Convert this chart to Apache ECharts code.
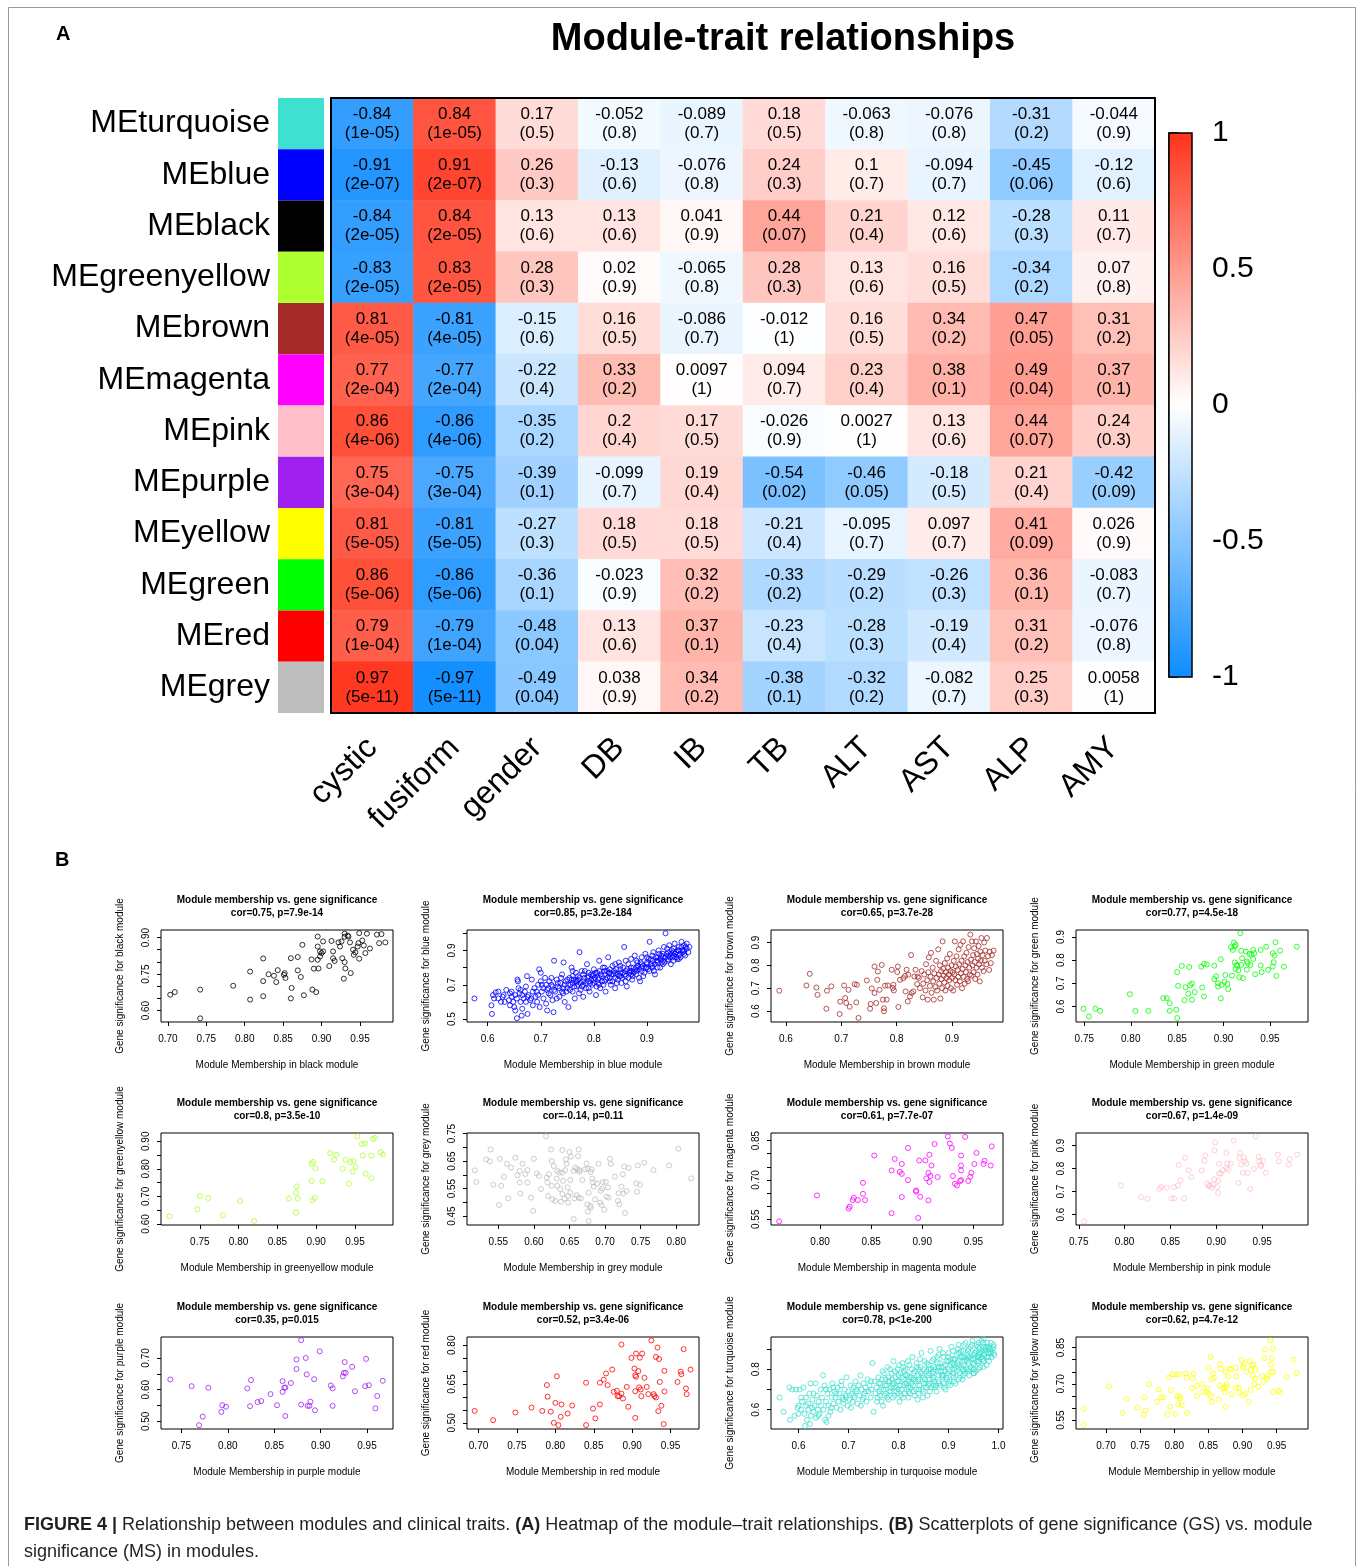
<!DOCTYPE html>
<html>
<head>
<meta charset="utf-8">
<script src="https://cdn.jsdelivr.net/npm/echarts@6/dist/echarts.min.js"></script>
<style>
html,body{margin:0;padding:0;background:#fff}
#main{width:1357px;height:1566px}
</style>
</head>
<body>
<div id="main"></div>
<script>
// ---- panel A data ----
var modules = ['MEturquoise','MEblue','MEblack','MEgreenyellow','MEbrown','MEmagenta','MEpink','MEpurple','MEyellow','MEgreen','MEred','MEgrey'];
var modColors = ['#40E0D0','#0000FF','#000000','#ADFF2F','#A52A2A','#FF00FF','#FFC0CB','#A020F0','#FFFF00','#00FF00','#FF0000','#BEBEBE'];
var traits = ['cystic','fusiform','gender','DB','IB','TB','ALT','AST','ALP','AMY'];
var corVals = [
  [-0.84, 0.84, 0.17, -0.052, -0.089, 0.18, -0.063, -0.076, -0.31, -0.044],
  [-0.91, 0.91, 0.26, -0.13, -0.076, 0.24, 0.1, -0.094, -0.45, -0.12],
  [-0.84, 0.84, 0.13, 0.13, 0.041, 0.44, 0.21, 0.12, -0.28, 0.11],
  [-0.83, 0.83, 0.28, 0.02, -0.065, 0.28, 0.13, 0.16, -0.34, 0.07],
  [0.81, -0.81, -0.15, 0.16, -0.086, -0.012, 0.16, 0.34, 0.47, 0.31],
  [0.77, -0.77, -0.22, 0.33, 0.0097, 0.094, 0.23, 0.38, 0.49, 0.37],
  [0.86, -0.86, -0.35, 0.2, 0.17, -0.026, 0.0027, 0.13, 0.44, 0.24],
  [0.75, -0.75, -0.39, -0.099, 0.19, -0.54, -0.46, -0.18, 0.21, -0.42],
  [0.81, -0.81, -0.27, 0.18, 0.18, -0.21, -0.095, 0.097, 0.41, 0.026],
  [0.86, -0.86, -0.36, -0.023, 0.32, -0.33, -0.29, -0.26, 0.36, -0.083],
  [0.79, -0.79, -0.48, 0.13, 0.37, -0.23, -0.28, -0.19, 0.31, -0.076],
  [0.97, -0.97, -0.49, 0.038, 0.34, -0.38, -0.32, -0.082, 0.25, 0.0058]
];
var pVals = [
  ['1e-05','1e-05','0.5','0.8','0.7','0.5','0.8','0.8','0.2','0.9'],
  ['2e-07','2e-07','0.3','0.6','0.8','0.3','0.7','0.7','0.06','0.6'],
  ['2e-05','2e-05','0.6','0.6','0.9','0.07','0.4','0.6','0.3','0.7'],
  ['2e-05','2e-05','0.3','0.9','0.8','0.3','0.6','0.5','0.2','0.8'],
  ['4e-05','4e-05','0.6','0.5','0.7','1','0.5','0.2','0.05','0.2'],
  ['2e-04','2e-04','0.4','0.2','1','0.7','0.4','0.1','0.04','0.1'],
  ['4e-06','4e-06','0.2','0.4','0.5','0.9','1','0.6','0.07','0.3'],
  ['3e-04','3e-04','0.1','0.7','0.4','0.02','0.05','0.5','0.4','0.09'],
  ['5e-05','5e-05','0.3','0.5','0.5','0.4','0.7','0.7','0.09','0.9'],
  ['5e-06','5e-06','0.1','0.9','0.2','0.2','0.2','0.3','0.1','0.7'],
  ['1e-04','1e-04','0.04','0.6','0.1','0.4','0.3','0.4','0.2','0.8'],
  ['5e-11','5e-11','0.04','0.9','0.2','0.1','0.2','0.7','0.3','1']
];
var legendTicks = [-1, -0.5, 0, 0.5, 1];

// ---- panel B data ----
var scatterModules = ['black','blue','brown','green','greenyellow','grey','magenta','pink','purple','red','turquoise','yellow'];
var scatterColors = ['#000000','#0000FF','#A52A2A','#00FF00','#ADFF2F','#BEBEBE','#FF00FF','#FFC0CB','#A020F0','#FF0000','#40E0D0','#FFFF00'];
var scatterStats = ['cor=0.75, p=7.9e-14','cor=0.85, p=3.2e-184','cor=0.65, p=3.7e-28','cor=0.77, p=4.5e-18',
  'cor=0.8, p=3.5e-10','cor=-0.14, p=0.11','cor=0.61, p=7.7e-07','cor=0.67, p=1.4e-09',
  'cor=0.35, p=0.015','cor=0.52, p=3.4e-06','cor=0.78, p<1e-200','cor=0.62, p=4.7e-12'];
var xRanges = [[0.691,0.993],[0.561,0.998],[0.573,0.992],[0.741,0.991],[0.700,0.999],[0.506,0.832],
  [0.752,0.979],[0.747,1.0],[0.728,0.978],[0.685,0.987],[0.545,1.009],[0.656,0.996]];
var yRanges = [[0.553,0.931],[0.483,1.019],[0.552,0.955],[0.533,0.930],[0.596,0.930],[0.4175,0.752],
  [0.528,0.879],[0.555,0.955],[0.476,0.766],[0.476,0.832],[0.505,0.959],[0.513,0.894]];
var xTicks = [
  [0.70,0.75,0.80,0.85,0.90,0.95],[0.6,0.7,0.8,0.9],[0.6,0.7,0.8,0.9],[0.75,0.80,0.85,0.90,0.95],
  [0.75,0.80,0.85,0.90,0.95],[0.55,0.60,0.65,0.70,0.75,0.80],[0.80,0.85,0.90,0.95],[0.75,0.80,0.85,0.90,0.95],
  [0.75,0.80,0.85,0.90,0.95],[0.70,0.75,0.80,0.85,0.90,0.95],[0.6,0.7,0.8,0.9,1.0],[0.70,0.75,0.80,0.85,0.90,0.95]
];
var yTicks = [
  [0.60,0.65,0.70,0.75,0.80,0.85,0.90],[0.5,0.6,0.7,0.8,0.9,1.0],[0.6,0.7,0.8,0.9],[0.6,0.7,0.8,0.9],
  [0.60,0.65,0.70,0.75,0.80,0.85,0.90],[0.45,0.50,0.55,0.60,0.65,0.70,0.75],[0.55,0.60,0.65,0.70,0.75,0.80,0.85],[0.6,0.7,0.8,0.9],
  [0.50,0.55,0.60,0.65,0.70],[0.50,0.55,0.60,0.65,0.70,0.75,0.80],[0.6,0.7,0.8,0.9],[0.55,0.60,0.65,0.70,0.75,0.80,0.85]
];
var yLabels = [
  [0.60,0.75,0.90],[0.5,0.7,0.9],[0.6,0.7,0.8,0.9],[0.6,0.7,0.8,0.9],
  [0.60,0.70,0.80,0.90],[0.45,0.55,0.65,0.75],[0.55,0.70,0.85],[0.6,0.7,0.8,0.9],
  [0.50,0.60,0.70],[0.50,0.65,0.80],[0.6,0.8],[0.55,0.70,0.85]
];
var xDigits = [2,1,1,2,2,2,2,2,2,2,1,2];
var yDigits = [2,1,1,1,2,2,2,1,2,2,1,2];

var ptsBlack = [[0.703,0.665],[0.709,0.676],[0.742,0.686],[0.742,0.568],[0.785,0.702],[0.807,0.760],[0.807,0.645],[0.824,0.814],[0.824,0.721],[0.824,0.659],[0.831,0.749],[0.838,0.743],[0.841,0.717],[0.843,0.766],[0.851,0.747],[0.852,0.754],[0.853,0.734],[0.860,0.815],[0.861,0.693],[0.860,0.650],[0.869,0.820],[0.869,0.765],[0.873,0.738],[0.875,0.870],[0.877,0.663],[0.887,0.810],[0.890,0.772],[0.895,0.904],[0.895,0.863],[0.895,0.809],[0.896,0.773],[0.893,0.676],[0.898,0.822],[0.898,0.843],[0.900,0.836],[0.902,0.884],[0.902,0.843],[0.913,0.886],[0.910,0.783],[0.915,0.843],[0.915,0.815],[0.917,0.804],[0.922,0.880],[0.924,0.863],[0.926,0.884],[0.927,0.815],[0.930,0.916],[0.930,0.903],[0.930,0.799],[0.929,0.731],[0.931,0.773],[0.934,0.908],[0.935,0.904],[0.937,0.880],[0.938,0.754],[0.941,0.850],[0.942,0.829],[0.944,0.839],[0.947,0.863],[0.948,0.877],[0.949,0.918],[0.949,0.813],[0.953,0.888],[0.955,0.867],[0.957,0.836],[0.959,0.916],[0.963,0.855],[0.972,0.912],[0.975,0.877],[0.978,0.914],[0.983,0.880],[0.888,0.686]];

var ptsBlue = [[0.575,0.62],[0.607,0.58],[0.608,0.53],[0.61,0.64],[0.612,0.62],[0.615,0.655],[0.62,0.66],[0.625,0.6],[0.628,0.63],[0.635,0.67],[0.64,0.61],[0.642,0.58],[0.645,0.63],[0.648,0.6],[0.65,0.57],[0.652,0.55],[0.655,0.505],[0.656,0.73],[0.657,0.72],[0.658,0.68],[0.66,0.65],[0.662,0.6],[0.664,0.52],[0.665,0.56],[0.668,0.62],[0.67,0.66],[0.672,0.69],[0.674,0.75],[0.675,0.53],[0.677,0.64],[0.68,0.61],[0.683,0.73],[0.685,0.58],[0.688,0.68],[0.69,0.63],[0.693,0.6],[0.695,0.7],[0.697,0.79],[0.698,0.57],[0.7,0.77],[0.702,0.66],[0.705,0.62],[0.708,0.74],[0.71,0.59],[0.712,0.55],[0.714,0.68],[0.716,0.72],[0.718,0.64],[0.72,0.7],[0.722,0.61],[0.724,0.54],[0.725,0.84],[0.727,0.66],[0.73,0.73],[0.732,0.69],[0.735,0.63],[0.737,0.71],[0.74,0.76],[0.742,0.65],[0.743,0.83],[0.745,0.6],[0.747,0.72],[0.75,0.68],[0.752,0.57],[0.754,0.74],[0.756,0.7],[0.758,0.8],[0.76,0.66],[0.762,0.73],[0.764,0.62],[0.766,0.77],[0.768,0.69],[0.77,0.75],[0.772,0.65],[0.773,0.89],[0.775,0.71],[0.777,0.78],[0.78,0.63],[0.782,0.74],[0.785,0.68],[0.787,0.82],[0.79,0.72],[0.792,0.66],[0.795,0.76],[0.797,0.7],[0.8,0.79],[0.802,0.74],[0.804,0.64],[0.806,0.77],[0.808,0.71],[0.81,0.84],[0.812,0.68],[0.815,0.75],[0.817,0.8],[0.82,0.72],[0.822,0.66],[0.825,0.78],[0.827,0.86],[0.83,0.74],[0.832,0.7],[0.835,0.81],[0.837,0.76],[0.84,0.68],[0.842,0.79],[0.845,0.73],[0.847,0.83],[0.85,0.77],[0.852,0.71],[0.855,0.8],[0.857,0.92],[0.86,0.75],[0.862,0.69],[0.865,0.82],[0.867,0.78],[0.87,0.85],[0.872,0.73],[0.875,0.8],[0.877,0.87],[0.88,0.76],[0.882,0.83],[0.885,0.79],[0.887,0.72],[0.89,0.86],[0.892,0.81],[0.895,0.77],[0.897,0.88],[0.9,0.83],[0.902,0.79],[0.905,0.95],[0.907,0.85],[0.91,0.81],[0.912,0.89],[0.915,0.76],[0.917,0.86],[0.92,0.83],[0.922,0.9],[0.925,0.8],[0.927,0.87],[0.93,0.84],[0.932,0.92],[0.935,1.0],[0.937,0.88],[0.94,0.85],[0.942,0.93],[0.945,0.82],[0.947,0.9],[0.95,0.87],[0.952,0.94],[0.955,0.89],[0.957,0.85],[0.96,0.92],[0.962,0.88],[0.965,0.95],[0.967,0.9],[0.97,0.93],[0.972,0.87],[0.975,0.91],[0.978,0.89],[0.98,0.92],
  [0.76,0.71],[0.78,0.7],[0.79,0.77],[0.8,0.73],[0.81,0.7],[0.82,0.76],[0.83,0.77],[0.84,0.74],[0.85,0.75],[0.86,0.78],[0.87,0.76],[0.88,0.8],[0.89,0.78],[0.9,0.8],[0.91,0.84],[0.92,0.86],[0.93,0.88],[0.94,0.89],[0.95,0.91],[0.96,0.9],[0.905,0.78],[0.915,0.82],[0.925,0.85],[0.935,0.86],[0.945,0.88],[0.955,0.86],[0.965,0.92],[0.975,0.94],[0.885,0.74],[0.875,0.77],[0.865,0.74],[0.855,0.77],[0.845,0.76],[0.835,0.72],[0.825,0.74],[0.815,0.72],[0.805,0.69],[0.795,0.73],[0.785,0.71],[0.775,0.67],[0.765,0.72],[0.755,0.67],[0.745,0.7],[0.735,0.68],[0.725,0.67],[0.715,0.65],[0.705,0.68],[0.695,0.64],[0.685,0.66],[0.675,0.63],[0.665,0.64],[0.655,0.62],[0.645,0.66],[0.63,0.64],[0.62,0.62],[0.7,0.72],[0.71,0.7],[0.72,0.74],[0.73,0.62],[0.74,0.66],[0.75,0.73],[0.76,0.78],[0.77,0.7],[0.78,0.76],[0.79,0.68],[0.8,0.76],[0.81,0.78],[0.82,0.8],[0.83,0.79],[0.84,0.82],[0.85,0.81],[0.86,0.84],[0.87,0.8],[0.88,0.84],[0.89,0.82],[0.9,0.86],[0.91,0.87],[0.92,0.8],[0.93,0.82],[0.94,0.87],[0.95,0.84],[0.96,0.87],[0.97,0.9],
  [0.76,0.75],[0.77,0.73],[0.78,0.72],[0.79,0.75],[0.8,0.71],[0.81,0.74],[0.82,0.78],[0.83,0.72],[0.84,0.77],[0.85,0.79],[0.86,0.72],[0.87,0.78],[0.88,0.78],[0.89,0.8],[0.9,0.82],[0.91,0.8],[0.92,0.84],[0.93,0.86],[0.94,0.84],[0.95,0.89],[0.96,0.85],[0.97,0.88],[0.763,0.69],[0.773,0.74],[0.783,0.78],[0.793,0.71],[0.803,0.77],[0.813,0.76],[0.823,0.73],[0.833,0.76],[0.843,0.71],[0.853,0.74],[0.863,0.79],[0.873,0.75],[0.883,0.81],[0.893,0.75],[0.903,0.85],[0.913,0.78],[0.923,0.88],[0.933,0.83],[0.943,0.86],[0.953,0.88],[0.963,0.86],[0.973,0.92],[0.702,0.7],[0.712,0.67],[0.722,0.69],[0.732,0.71],[0.742,0.68],[0.752,0.7],[0.692,0.66],[0.682,0.62],[0.672,0.6],[0.662,0.67],[0.652,0.64],[0.642,0.65],[0.632,0.6],[0.738,0.74],[0.748,0.66],[0.758,0.73],[0.768,0.72],[0.778,0.69],[0.788,0.74],[0.798,0.75],[0.808,0.73],[0.818,0.7],[0.828,0.77],[0.838,0.78],[0.848,0.75],[0.858,0.76],[0.868,0.77],[0.878,0.79],[0.888,0.83],[0.898,0.8],[0.908,0.82],[0.918,0.84],[0.928,0.83],[0.938,0.91],[0.948,0.86],[0.958,0.9],[0.968,0.89]];

var ptsBrown = [[0.588,0.689],[0.637,0.712],[0.643,0.763],[0.655,0.703],[0.657,0.671],[0.673,0.610],[0.674,0.689],[0.682,0.708],[0.697,0.587],[0.698,0.641],[0.705,0.712],[0.707,0.657],[0.709,0.635],[0.713,0.693],[0.715,0.619],[0.724,0.718],[0.727,0.638],[0.728,0.715],[0.731,0.570],[0.746,0.734],[0.752,0.610],[0.753,0.631],[0.755,0.699],[0.760,0.679],[0.760,0.795],[0.763,0.635],[0.765,0.737],[0.766,0.773],[0.769,0.693],[0.773,0.802],[0.775,0.650],[0.777,0.612],[0.777,0.599],[0.779,0.711],[0.782,0.650],[0.784,0.712],[0.791,0.781],[0.793,0.701],[0.794,0.715],[0.795,0.690],[0.801,0.771],[0.802,0.795],[0.803,0.618],[0.806,0.737],[0.812,0.744],[0.815,0.754],[0.816,0.686],[0.818,0.781],[0.820,0.642],[0.821,0.759],[0.824,0.664],[0.826,0.845],[0.827,0.679],[0.830,0.686],[0.832,0.751],[0.834,0.781],[0.837,0.718],[0.838,0.751],
  [0.840,0.745],[0.842,0.700],[0.845,0.775],[0.847,0.660],[0.848,0.720],[0.850,0.760],[0.852,0.690],[0.853,0.805],[0.855,0.735],[0.856,0.650],[0.857,0.770],[0.858,0.835],[0.860,0.710],[0.861,0.750],[0.862,0.855],[0.863,0.680],[0.865,0.790],[0.866,0.730],[0.867,0.650],[0.868,0.765],[0.870,0.705],[0.871,0.820],[0.872,0.745],[0.873,0.690],[0.875,0.870],[0.876,0.760],[0.877,0.720],[0.878,0.800],[0.879,0.655],[0.880,0.775],[0.881,0.740],[0.882,0.700],[0.883,0.905],[0.884,0.785],[0.885,0.755],[0.886,0.725],[0.887,0.810],[0.888,0.690],[0.889,0.770],[0.890,0.745],[0.891,0.830],[0.892,0.710],[0.893,0.790],[0.894,0.760],[0.895,0.735],[0.896,0.850],[0.897,0.775],[0.898,0.700],[0.899,0.800],[0.900,0.745],[0.901,0.770],[0.902,0.690],[0.903,0.820],[0.904,0.760],[0.905,0.905],[0.906,0.735],[0.907,0.795],[0.908,0.840],[0.909,0.715],[0.910,0.780],[0.911,0.750],[0.912,0.870],[0.913,0.805],[0.914,0.730],[0.915,0.890],[0.916,0.765],[0.917,0.820],[0.918,0.700],[0.919,0.785],[0.920,0.905],[0.921,0.750],[0.922,0.840],[0.923,0.720],[0.924,0.800],[0.925,0.770],[0.926,0.855],[0.927,0.740],[0.928,0.815],[0.929,0.730],[0.930,0.880],[0.931,0.790],[0.932,0.760],[0.933,0.935],[0.934,0.825],[0.935,0.755],[0.936,0.905],[0.937,0.800],[0.938,0.845],[0.939,0.770],[0.940,0.875],[0.941,0.815],[0.942,0.740],[0.943,0.905],[0.944,0.790],[0.945,0.850],[0.946,0.760],[0.947,0.830],[0.948,0.885],[0.949,0.805],[0.950,0.730],[0.951,0.860],[0.952,0.820],[0.953,0.920],[0.954,0.790],[0.955,0.845],[0.957,0.775],[0.958,0.900],[0.959,0.820],[0.960,0.865],[0.962,0.805],[0.963,0.920],[0.965,0.840],[0.967,0.780],[0.968,0.860],[0.970,0.810],[0.972,0.845],[0.975,0.865]];

var ptsGreen = [[0.749,0.590],[0.755,0.557],[0.762,0.590],[0.767,0.581],[0.799,0.653],[0.805,0.581],[0.819,0.581],[0.835,0.636],[0.839,0.636],[0.842,0.614],[0.842,0.581],[0.849,0.586],[0.850,0.748],[0.851,0.689],[0.850,0.550],[0.855,0.775],[0.858,0.627],[0.859,0.683],[0.862,0.655],[0.863,0.770],[0.864,0.692],[0.866,0.699],[0.866,0.629],[0.869,0.662],[0.876,0.772],[0.877,0.682],[0.879,0.643],[0.879,0.784],[0.882,0.781],[0.890,0.718],[0.890,0.776],[0.892,0.730],[0.894,0.700],[0.894,0.686],[0.897,0.804],[0.897,0.635],[0.898,0.693],[0.901,0.706],[0.902,0.736],[0.904,0.697],[0.905,0.675],[0.908,0.856],[0.909,0.733],[0.910,0.844],[0.911,0.876],[0.912,0.859],[0.912,0.790],[0.913,0.866],[0.913,0.762],[0.914,0.779],[0.915,0.776],[0.916,0.756],[0.917,0.726],[0.918,0.916],[0.919,0.840],[0.919,0.779],[0.920,0.808],[0.921,0.722],[0.924,0.837],[0.925,0.794],[0.925,0.759],[0.926,0.787],[0.928,0.827],[0.929,0.779],[0.930,0.823],[0.932,0.844],[0.932,0.805],[0.933,0.830],[0.934,0.739],[0.940,0.777],[0.940,0.844],[0.941,0.748],[0.946,0.858],[0.948,0.758],[0.953,0.772],[0.953,0.830],[0.954,0.791],[0.955,0.820],[0.956,0.877],[0.957,0.732],[0.961,0.841],[0.965,0.772],[0.979,0.858]];

var ptsGreenyellow = [[0.711,0.627],[0.747,0.653],[0.750,0.701],[0.761,0.694],[0.780,0.631],[0.802,0.683],[0.820,0.611],[0.865,0.692],[0.874,0.641],[0.874,0.713],[0.875,0.736],[0.876,0.692],[0.894,0.755],[0.894,0.819],[0.895,0.686],[0.896,0.825],[0.898,0.694],[0.899,0.802],[0.908,0.755],[0.918,0.857],[0.923,0.833],[0.926,0.851],[0.934,0.800],[0.938,0.833],[0.942,0.746],[0.944,0.824],[0.947,0.790],[0.948,0.828],[0.951,0.807],[0.953,0.918],[0.959,0.890],[0.960,0.848],[0.963,0.892],[0.964,0.782],[0.971,0.766],[0.971,0.848],[0.973,0.908],[0.976,0.912],[0.983,0.860],[0.986,0.852]];

var ptsGrey = [[0.517,0.616],[0.519,0.574],[0.533,0.656],[0.538,0.649],[0.539,0.692],[0.543,0.564],[0.551,0.490],[0.552,0.658],[0.554,0.560],[0.558,0.593],[0.562,0.640],[0.564,0.514],[0.568,0.626],[0.574,0.662],[0.577,0.598],[0.580,0.614],[0.580,0.572],[0.581,0.532],[0.584,0.640],[0.588,0.603],[0.591,0.617],[0.591,0.572],[0.596,0.517],[0.599,0.469],[0.600,0.658],[0.604,0.605],[0.607,0.596],[0.610,0.548],[0.617,0.740],[0.618,0.590],[0.619,0.572],[0.620,0.523],[0.621,0.602],[0.624,0.692],[0.625,0.650],[0.625,0.560],[0.626,0.511],[0.628,0.632],[0.630,0.505],[0.632,0.586],[0.633,0.560],[0.633,0.614],[0.636,0.608],[0.637,0.548],[0.638,0.502],[0.640,0.690],[0.640,0.530],[0.640,0.608],[0.641,0.578],[0.643,0.514],[0.644,0.617],[0.645,0.656],[0.646,0.640],[0.647,0.554],[0.648,0.523],[0.648,0.499],[0.650,0.683],[0.651,0.581],[0.651,0.535],[0.652,0.666],[0.656,0.614],[0.656,0.439],[0.657,0.514],[0.658,0.626],[0.660,0.526],[0.661,0.620],[0.662,0.668],[0.663,0.692],[0.663,0.517],[0.664,0.617],[0.664,0.611],[0.666,0.514],[0.668,0.581],[0.672,0.620],[0.674,0.641],[0.675,0.492],[0.676,0.622],[0.676,0.466],[0.677,0.535],[0.677,0.432],[0.679,0.487],[0.680,0.610],[0.680,0.481],[0.681,0.620],[0.682,0.586],[0.683,0.572],[0.684,0.557],[0.686,0.511],[0.689,0.568],[0.691,0.640],[0.693,0.499],[0.694,0.542],[0.695,0.490],[0.696,0.550],[0.697,0.574],[0.699,0.473],[0.701,0.574],[0.702,0.521],[0.704,0.554],[0.705,0.517],[0.707,0.658],[0.708,0.640],[0.714,0.593],[0.718,0.505],[0.719,0.533],[0.720,0.493],[0.723,0.557],[0.725,0.602],[0.726,0.532],[0.727,0.630],[0.728,0.461],[0.730,0.541],[0.733,0.625],[0.744,0.569],[0.745,0.538],[0.746,0.634],[0.749,0.564],[0.755,0.644],[0.768,0.617],[0.790,0.634],[0.803,0.695],[0.821,0.587]];

var ptsMagenta = [[0.760,0.542],[0.797,0.641],[0.828,0.591],[0.829,0.598],[0.832,0.623],[0.833,0.632],[0.837,0.623],[0.842,0.647],[0.842,0.689],[0.844,0.623],[0.853,0.793],[0.870,0.573],[0.870,0.736],[0.873,0.780],[0.878,0.731],[0.880,0.723],[0.880,0.761],[0.880,0.635],[0.886,0.699],[0.886,0.822],[0.894,0.655],[0.894,0.660],[0.896,0.555],[0.897,0.774],[0.898,0.636],[0.903,0.774],[0.904,0.706],[0.906,0.727],[0.906,0.622],[0.907,0.692],[0.907,0.796],[0.908,0.715],[0.909,0.755],[0.912,0.837],[0.915,0.711],[0.925,0.866],[0.927,0.839],[0.929,0.822],[0.930,0.715],[0.932,0.685],[0.934,0.679],[0.937,0.696],[0.938,0.793],[0.938,0.755],[0.938,0.736],[0.938,0.699],[0.942,0.864],[0.945,0.696],[0.947,0.712],[0.948,0.727],[0.951,0.761],[0.953,0.803],[0.960,0.761],[0.961,0.773],[0.967,0.755],[0.968,0.828]];

var ptsPink = [[0.756,0.571],[0.796,0.727],[0.818,0.676],[0.825,0.669],[0.838,0.712],[0.840,0.720],[0.846,0.717],[0.851,0.671],[0.854,0.720],[0.854,0.671],[0.858,0.727],[0.859,0.816],[0.861,0.748],[0.865,0.671],[0.866,0.847],[0.870,0.793],[0.873,0.763],[0.884,0.792],[0.887,0.834],[0.888,0.857],[0.890,0.734],[0.892,0.724],[0.893,0.727],[0.895,0.717],[0.896,0.731],[0.898,0.753],[0.898,0.880],[0.899,0.914],[0.901,0.720],[0.902,0.746],[0.902,0.695],[0.903,0.821],[0.903,0.779],[0.905,0.779],[0.907,0.793],[0.911,0.869],[0.911,0.803],[0.912,0.822],[0.913,0.796],[0.916,0.822],[0.919,0.922],[0.924,0.738],[0.925,0.847],[0.926,0.869],[0.927,0.818],[0.929,0.782],[0.930,0.847],[0.931,0.832],[0.933,0.822],[0.934,0.782],[0.937,0.712],[0.941,0.799],[0.943,0.940],[0.946,0.851],[0.947,0.832],[0.948,0.816],[0.949,0.811],[0.951,0.835],[0.954,0.782],[0.967,0.861],[0.968,0.832],[0.979,0.818],[0.980,0.842],[0.988,0.861]];

var ptsPurple = [[0.738,0.632],[0.761,0.611],[0.769,0.488],[0.773,0.515],[0.779,0.606],[0.793,0.530],[0.794,0.551],[0.798,0.546],[0.821,0.604],[0.824,0.548],[0.825,0.630],[0.832,0.561],[0.836,0.564],[0.846,0.586],[0.853,0.551],[0.859,0.627],[0.859,0.593],[0.861,0.606],[0.862,0.607],[0.862,0.517],[0.868,0.621],[0.874,0.695],[0.874,0.665],[0.879,0.553],[0.879,0.756],[0.884,0.700],[0.885,0.648],[0.886,0.549],[0.888,0.549],[0.889,0.562],[0.893,0.633],[0.894,0.535],[0.899,0.721],[0.911,0.613],[0.913,0.604],[0.913,0.549],[0.924,0.642],[0.925,0.653],[0.926,0.687],[0.927,0.653],[0.934,0.672],[0.937,0.595],[0.948,0.611],[0.949,0.697],[0.952,0.614],[0.959,0.541],[0.961,0.580],[0.967,0.628]];

var ptsRed = [[0.695,0.546],[0.719,0.510],[0.748,0.540],[0.769,0.559],[0.783,0.546],[0.789,0.646],[0.790,0.601],[0.794,0.543],[0.798,0.500],[0.800,0.577],[0.802,0.680],[0.804,0.491],[0.807,0.523],[0.808,0.571],[0.816,0.536],[0.822,0.567],[0.840,0.655],[0.840,0.491],[0.849,0.555],[0.852,0.517],[0.858,0.571],[0.858,0.655],[0.863,0.667],[0.866,0.691],[0.868,0.646],[0.874,0.706],[0.876,0.620],[0.880,0.624],[0.881,0.603],[0.883,0.603],[0.886,0.803],[0.886,0.613],[0.888,0.594],[0.893,0.639],[0.895,0.562],[0.899,0.751],[0.903,0.710],[0.904,0.684],[0.904,0.622],[0.904,0.519],[0.905,0.768],[0.905,0.678],[0.908,0.700],[0.909,0.637],[0.910,0.752],[0.911,0.629],[0.912,0.603],[0.913,0.768],[0.916,0.674],[0.919,0.639],[0.921,0.611],[0.925,0.819],[0.928,0.611],[0.929,0.603],[0.931,0.755],[0.931,0.598],[0.933,0.791],[0.934,0.545],[0.935,0.747],[0.936,0.658],[0.938,0.566],[0.941,0.495],[0.942,0.701],[0.942,0.621],[0.959,0.658],[0.963,0.698],[0.964,0.688],[0.967,0.785],[0.970,0.633],[0.971,0.611],[0.976,0.706]];

var ptsTurquoise = [[0.562,0.66],[0.570,0.59],[0.582,0.71],[0.583,0.55],[0.587,0.70],[0.592,0.57],[0.595,0.70],[0.598,0.61],[0.600,0.62],[0.602,0.70],[0.605,0.60],[0.607,0.64],[0.610,0.71],[0.612,0.58],[0.613,0.52],[0.615,0.66],[0.617,0.55],[0.619,0.63],[0.620,0.60],[0.622,0.68],[0.623,0.53],[0.624,0.73],[0.625,0.57],[0.627,0.61],[0.628,0.65],[0.630,0.59],[0.632,0.62],[0.634,0.73],[0.635,0.56],[0.637,0.67],[0.639,0.60],[0.640,0.64],[0.642,0.58],[0.644,0.70],[0.645,0.62],[0.647,0.66],[0.649,0.77],[0.650,0.60],[0.652,0.72],[0.653,0.55],[0.655,0.64],[0.656,0.54],[0.658,0.68],[0.660,0.62],[0.662,0.70],[0.664,0.59],[0.666,0.66],[0.668,0.73],[0.670,0.63],[0.672,0.69],[0.674,0.66],[0.676,0.61],[0.678,0.71],[0.680,0.64],[0.682,0.68],[0.684,0.60],[0.686,0.74],[0.688,0.66],[0.690,0.63],[0.692,0.70],[0.694,0.67],[0.696,0.76],[0.698,0.62],[0.700,0.69],[0.702,0.65],[0.704,0.72],[0.706,0.68],[0.708,0.64],[0.710,0.71],[0.712,0.66],[0.714,0.74],[0.716,0.69],[0.718,0.63],[0.720,0.72],[0.722,0.67],[0.724,0.77],[0.726,0.70],[0.728,0.65],[0.730,0.73],[0.732,0.68],[0.734,0.71],[0.736,0.64],[0.738,0.75],[0.740,0.69],[0.742,0.72],[0.744,0.66],[0.746,0.70],[0.748,0.83],[0.750,0.59],[0.752,0.74],[0.754,0.68],
  [0.756,0.71],[0.758,0.66],[0.760,0.76],[0.762,0.69],[0.764,0.73],[0.766,0.64],[0.768,0.79],[0.770,0.70],[0.772,0.67],[0.774,0.75],[0.776,0.72],[0.778,0.81],[0.780,0.65],[0.782,0.74],[0.784,0.69],[0.786,0.78],[0.788,0.72],[0.790,0.84],[0.792,0.67],[0.794,0.76],[0.796,0.71],[0.798,0.80],[0.800,0.74],[0.802,0.64],[0.804,0.78],[0.806,0.70],[0.808,0.83],[0.810,0.75],[0.812,0.68],[0.814,0.80],[0.816,0.73],[0.818,0.77],[0.820,0.66],[0.822,0.82],[0.824,0.71],[0.826,0.76],[0.828,0.86],[0.830,0.69],[0.832,0.79],[0.834,0.74],[0.836,0.83],[0.838,0.65],[0.840,0.77],[0.842,0.72],[0.844,0.81],[0.846,0.88],[0.848,0.70],[0.850,0.76],[0.852,0.84],[0.854,0.73],[0.856,0.79],[0.858,0.67],[0.860,0.82],[0.862,0.75],[0.864,0.89],[0.866,0.71],[0.868,0.78],[0.870,0.85],[0.872,0.74],[0.874,0.80],[0.876,0.69],[0.878,0.83],[0.880,0.77],[0.882,0.90],[0.884,0.72],[0.886,0.81],[0.888,0.76],[0.890,0.86],[0.892,0.79],[0.894,0.70],[0.896,0.84],[0.898,0.78],[0.900,0.88],[0.902,0.74],[0.904,0.82],[0.906,0.91],[0.908,0.77],[0.910,0.85],[0.912,0.80],[0.914,0.73],[0.916,0.87],[0.918,0.83],[0.920,0.92],[0.922,0.78],[0.924,0.86],[0.926,0.81],[0.928,0.75],[0.930,0.89],[0.932,0.84],[0.934,0.93],[0.936,0.80],[0.938,0.87],[0.940,0.83],[0.942,0.77],[0.944,0.91],[0.946,0.85],[0.948,0.94],[0.950,0.82],[0.952,0.88],[0.954,0.79],[0.956,0.92],[0.958,0.86],[0.960,0.83],[0.962,0.90],[0.964,0.88],[0.966,0.94],[0.968,0.85],[0.970,0.91],[0.972,0.87],[0.974,0.89],[0.976,0.82],[0.978,0.93],[0.980,0.88],[0.983,0.90],[0.986,0.86],[0.990,0.92],
  [0.78,0.76],[0.79,0.73],[0.80,0.70],[0.81,0.72],[0.82,0.74],[0.83,0.78],[0.84,0.75],[0.85,0.73],[0.86,0.77],[0.87,0.79],[0.88,0.74],[0.89,0.81],[0.90,0.80],[0.91,0.78],[0.92,0.84],[0.93,0.82],[0.94,0.86],[0.95,0.85],[0.96,0.87],[0.97,0.84],[0.98,0.90],[0.905,0.85],[0.915,0.81],[0.925,0.89],[0.935,0.85],[0.945,0.81],[0.955,0.89],[0.965,0.86],[0.975,0.91],[0.985,0.88],[0.895,0.76],[0.885,0.79],[0.875,0.72],[0.865,0.80],[0.855,0.71],[0.845,0.78],[0.835,0.70],[0.825,0.73],[0.815,0.77],[0.805,0.67],[0.795,0.69],[0.785,0.71],[0.775,0.68],[0.765,0.70],[0.91,0.76],[0.93,0.79],[0.95,0.80],[0.97,0.81],[0.96,0.93],[0.94,0.90],[0.92,0.88],[0.90,0.84],[0.88,0.87],[0.86,0.73],[0.84,0.68],[0.82,0.69],[0.87,0.76],[0.89,0.73],[0.93,0.77],[0.95,0.78],[0.99,0.88],[0.97,0.95],[0.96,0.80],[0.985,0.93],
  [0.757,0.64],[0.761,0.73],[0.763,0.67],[0.767,0.75],[0.769,0.62],[0.771,0.78],[0.773,0.72],[0.777,0.66],[0.779,0.74],[0.781,0.69],[0.783,0.80],[0.787,0.75],[0.789,0.66],[0.791,0.71],[0.793,0.79],[0.797,0.74],[0.799,0.68],[0.801,0.82],[0.803,0.72],[0.807,0.76],[0.809,0.66],[0.811,0.79],[0.813,0.73],[0.817,0.70],[0.819,0.84],[0.821,0.76],[0.823,0.68],[0.827,0.80],[0.829,0.72],[0.831,0.75],[0.833,0.67],[0.837,0.81],[0.839,0.74],[0.841,0.70],[0.843,0.85],[0.847,0.77],[0.849,0.66],[0.851,0.80],[0.853,0.75],[0.857,0.83],[0.859,0.72],[0.861,0.78],[0.863,0.69],[0.867,0.84],[0.869,0.75],[0.871,0.81],[0.873,0.71],[0.877,0.86],[0.879,0.79],[0.881,0.73],[0.883,0.83],[0.887,0.77],[0.889,0.88],[0.891,0.71],[0.893,0.82],[0.897,0.75],[0.899,0.86],[0.901,0.79],[0.903,0.72],[0.907,0.83],[0.909,0.89],[0.911,0.74],[0.913,0.85],[0.917,0.79],[0.919,0.90],[0.921,0.82],[0.923,0.76],[0.927,0.86],[0.929,0.80],[0.931,0.92],[0.933,0.78],[0.937,0.84],[0.939,0.89],[0.941,0.80],[0.943,0.86],[0.947,0.92],[0.949,0.83],[0.951,0.78],[0.953,0.88],[0.957,0.84],[0.959,0.91],[0.961,0.86],[0.963,0.81],[0.967,0.89],[0.969,0.93],[0.971,0.84],[0.973,0.90],[0.977,0.86],[0.979,0.91],[0.981,0.84],[0.984,0.89],[0.988,0.90],[0.992,0.87],
  [0.80,0.77],[0.81,0.81],[0.82,0.71],[0.83,0.75],[0.84,0.80],[0.85,0.69],[0.86,0.80],[0.87,0.72],[0.88,0.81],[0.89,0.77],[0.90,0.73],[0.91,0.82],[0.92,0.75],[0.93,0.86],[0.94,0.79],[0.95,0.87],[0.96,0.84],[0.97,0.88],[0.98,0.86],[0.99,0.91],
  [0.655,0.70],[0.665,0.61],[0.675,0.68],[0.685,0.72],[0.695,0.66],[0.705,0.61],[0.715,0.70],[0.725,0.62],[0.735,0.69],[0.745,0.74],[0.63,0.68],[0.64,0.57],[0.615,0.62],[0.605,0.66],[0.6,0.58],[0.66,0.57],[0.67,0.71],[0.69,0.65],[0.71,0.67],[0.73,0.66]];

var ptsYellow = [[0.667,0.597],[0.667,0.530],[0.704,0.690],[0.724,0.580],[0.730,0.637],[0.746,0.602],[0.756,0.644],[0.755,0.571],[0.758,0.589],[0.763,0.699],[0.775,0.626],[0.777,0.677],[0.781,0.644],[0.784,0.644],[0.790,0.575],[0.792,0.726],[0.795,0.674],[0.794,0.605],[0.798,0.740],[0.802,0.575],[0.803,0.739],[0.804,0.649],[0.806,0.616],[0.807,0.739],[0.808,0.649],[0.809,0.640],[0.811,0.612],[0.817,0.743],[0.818,0.726],[0.819,0.580],[0.828,0.743],[0.826,0.681],[0.827,0.722],[0.833,0.692],[0.833,0.649],[0.841,0.699],[0.841,0.667],[0.847,0.667],[0.849,0.681],[0.850,0.767],[0.851,0.657],[0.853,0.811],[0.854,0.649],[0.855,0.626],[0.855,0.718],[0.857,0.743],[0.858,0.725],[0.865,0.635],[0.867,0.693],[0.867,0.781],[0.868,0.763],[0.872,0.684],[0.873,0.681],[0.874,0.667],[0.875,0.750],[0.875,0.605],[0.876,0.688],[0.877,0.699],[0.879,0.729],[0.881,0.763],[0.883,0.759],[0.884,0.657],[0.890,0.684],[0.890,0.766],[0.891,0.731],[0.895,0.684],[0.895,0.663],[0.899,0.798],[0.901,0.653],[0.901,0.770],[0.902,0.781],[0.904,0.660],[0.906,0.750],[0.909,0.626],[0.910,0.794],[0.912,0.674],[0.912,0.757],[0.914,0.777],[0.915,0.734],[0.916,0.780],[0.917,0.699],[0.919,0.722],[0.919,0.759],[0.923,0.688],[0.929,0.733],[0.931,0.708],[0.932,0.807],[0.933,0.843],[0.936,0.722],[0.937,0.733],[0.941,0.780],[0.941,0.880],[0.942,0.750],[0.943,0.805],[0.944,0.846],[0.945,0.750],[0.945,0.667],[0.952,0.671],[0.955,0.667],[0.965,0.729],[0.975,0.800],[0.979,0.745]];

var scatterPts = [ptsBlack, ptsBlue, ptsBrown, ptsGreen, ptsGreenyellow, ptsGrey, ptsMagenta, ptsPink, ptsPurple, ptsRed, ptsTurquoise, ptsYellow];

// ---- chart ----
var FONT = '"Liberation Sans", Arial, Helvetica, sans-serif';
var myChart = echarts.init(document.getElementById('main'));

var heatData = [];
for (var r = 0; r < modules.length; r++) {
  for (var c = 0; c < traits.length; c++) {
    heatData.push([c, r, corVals[r][c]]);
  }
}

var grids = [
  {left: 331, top: 98, width: 824, height: 615},
  {left: 278, top: 98, width: 46, height: 615},
  {left: 1169, top: 133, width: 23, height: 544}
];
var xAxes = [
  {gridIndex: 0, type: 'category', data: traits, axisLine: {show: false}, axisTick: {show: false},
    splitLine: {show: false},
    axisLabel: {interval: 0, rotate: 45, fontSize: 32, color: '#000', margin: 30, fontFamily: FONT}},
  {gridIndex: 1, type: 'value', min: 0, max: 1, show: false},
  {gridIndex: 2, type: 'value', min: 0, max: 1, show: false}
];
var yAxes = [
  {gridIndex: 0, type: 'category', data: modules, inverse: true, show: false},
  {gridIndex: 1, type: 'category', data: modules, inverse: true, axisLine: {show: false}, axisTick: {show: false},
    axisLabel: {interval: 0, fontSize: 32, color: '#000', margin: 8, fontFamily: FONT}},
  {gridIndex: 2, type: 'value', min: -1, max: 1, interval: 0.5, position: 'right',
    axisLine: {show: true, lineStyle: {color: '#000', width: 1.5}},
    axisTick: {show: true, length: 9, lineStyle: {color: '#000', width: 1.5}},
    splitLine: {show: false},
    axisLabel: {fontSize: 30, color: '#000', margin: 20, fontFamily: FONT,
      customValues: legendTicks}}
];
var series = [
  {
    type: 'heatmap', xAxisIndex: 0, yAxisIndex: 0, data: heatData,
    label: {
      show: true, color: '#000', fontSize: 17, lineHeight: 19, fontFamily: FONT,
      formatter: function (p) {
        return corVals[p.data[1]][p.data[0]] + '\n(' + pVals[p.data[1]][p.data[0]] + ')';
      }
    },
    silent: true
  },
  {
    type: 'bar', xAxisIndex: 1, yAxisIndex: 1, barCategoryGap: '0%', silent: true,
    data: modules.map(function (m, i) { return {value: 1, itemStyle: {color: modColors[i]}}; })
  }
];

var graphics = [
  {type: 'rect', shape: {x: 8.5, y: 7.5, width: 1347, height: 1600}, style: {fill: 'none', stroke: '#999', lineWidth: 1}, z: 1},
  {type: 'text', x: 56, y: 34, style: {text: 'A', font: 'bold 20px ' + FONT, fill: '#000', textVerticalAlign: 'middle'}},
  {type: 'text', x: 55, y: 860, style: {text: 'B', font: 'bold 20px ' + FONT, fill: '#000', textVerticalAlign: 'middle'}},
  {type: 'text', x: 783, y: 40, style: {text: 'Module-trait relationships', font: 'bold 38px ' + FONT, fill: '#000', textAlign: 'center', textVerticalAlign: 'middle'}},
  {type: 'rect', shape: {x: 331, y: 98, width: 824, height: 615}, style: {fill: 'none', stroke: '#000', lineWidth: 2}, z: 100},
  {type: 'rect', shape: {x: 1169, y: 133, width: 23, height: 544},
    style: {
      fill: new echarts.graphic.LinearGradient(0, 0, 0, 1, [
        {offset: 0, color: '#FF331A'}, {offset: 0.5, color: '#FFFFFF'}, {offset: 1, color: '#0D8CFF'}
      ]),
      stroke: '#000', lineWidth: 1.5
    }, z: 100},
  {type: 'text', x: 24, y: 1512,
    style: {
      text: '{b|FIGURE 4 |} Relationship between modules and clinical traits. {b|(A)} Heatmap of the module\u2013trait relationships. {b|(B)} Scatterplots of gene significance (GS) vs. module\nsignificance (MS) in modules.',
      font: '18px ' + FONT, fill: '#231f20', lineHeight: 27,
      rich: {b: {fontWeight: 'bold', fontSize: 18, fontFamily: FONT, fill: '#231f20'}}
    }}
];

var colLeft = [161, 467, 771, 1076];
var rowTop = [930, 1133, 1337];
var plotW = 232, plotH = 92;

scatterModules.forEach(function (m, i) {
  var left = colLeft[i % 4], top = rowTop[Math.floor(i / 4)];
  var g = grids.length;
  grids.push({left: left, top: top, width: plotW, height: plotH, show: true, borderColor: '#000', borderWidth: 1, backgroundColor: 'transparent'});
  var dx = xDigits[i], dy = yDigits[i];
  xAxes.push({
    gridIndex: g, type: 'value', min: xRanges[i][0], max: xRanges[i][1],
    axisLine: {show: false}, splitLine: {show: false},
    axisTick: {show: true, length: 4, customValues: xTicks[i], lineStyle: {color: '#000'}},
    axisLabel: {customValues: xTicks[i], fontSize: 10, color: '#000', margin: 12, fontFamily: FONT,
      formatter: function (v) { return v.toFixed(dx); }},
    name: 'Module Membership in ' + m + ' module', nameLocation: 'middle', nameGap: 38,
    nameTextStyle: {fontSize: 10, color: '#000', fontFamily: FONT}
  });
  yAxes.push({
    gridIndex: g, type: 'value', min: yRanges[i][0], max: yRanges[i][1],
    axisLine: {show: false}, splitLine: {show: false},
    axisTick: {show: true, length: 4, customValues: yTicks[i], lineStyle: {color: '#000'}},
    axisLabel: {customValues: yLabels[i], rotate: 90, fontSize: 10, color: '#000', margin: 10, fontFamily: FONT,
      formatter: function (v) { return v.toFixed(dy); }},
    name: 'Gene significance for ' + m + ' module', nameLocation: 'middle', nameGap: 36,
    nameTextStyle: {fontSize: 10, color: '#000', fontFamily: FONT}
  });
  series.push({
    type: 'scatter', xAxisIndex: g, yAxisIndex: g, data: scatterPts[i], symbol: 'circle', symbolSize: 5,
    itemStyle: {color: 'rgba(0,0,0,0)', borderColor: scatterColors[i], borderWidth: 1}, silent: true
  });
  graphics.push({type: 'text', x: left + plotW / 2, y: top - 36,
    style: {text: 'Module membership vs. gene significance\n' + scatterStats[i], font: 'bold 10px ' + FONT,
      fill: '#000', textAlign: 'center', lineHeight: 12.5}});
});

var option = {
  animation: false,
  backgroundColor: '#fff',
  grid: grids,
  xAxis: xAxes,
  yAxis: yAxes,
  visualMap: {
    type: 'continuous', min: -1, max: 1, seriesIndex: 0, show: false,
    inRange: {color: ['#0D8CFF', '#FFFFFF', '#FF331A']}
  },
  graphic: graphics,
  series: series
};
myChart.setOption(option);
window.addEventListener('resize', function () {
  myChart.resize();
});
</script>
</body>
</html>
